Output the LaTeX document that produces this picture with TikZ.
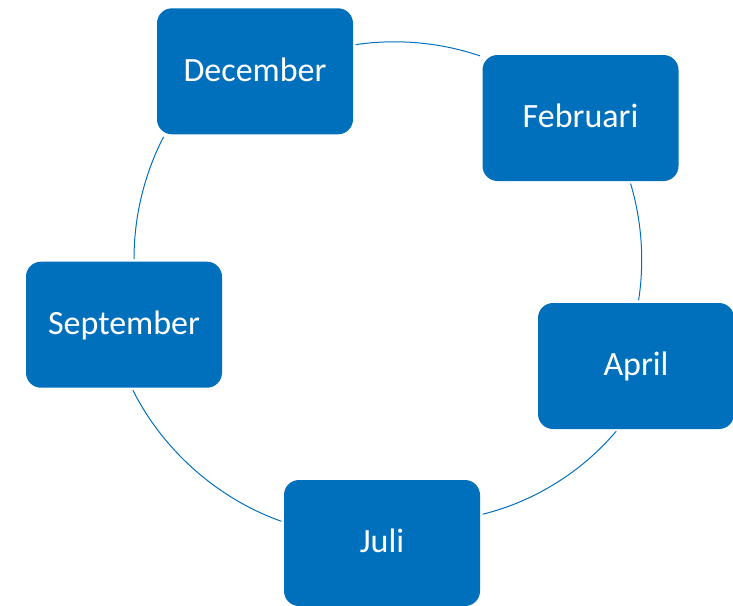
\documentclass[tikz,border=0pt]{standalone}
\usepackage{fontspec}
\setmainfont{Carlito}
\definecolor{boxblue}{RGB}{0,112,188}
\begin{document}
\begin{tikzpicture}[x=1pt,y=-1pt,
  month/.style={fill=boxblue, rounded corners=15pt, minimum width=196pt,
    minimum height=126pt, inner sep=0pt, text=white,
    font=\fontsize{34}{40}\selectfont, text height=19.5pt, text depth=0pt},
  cyclearc/.style={draw=boxblue, line width=1pt, looseness=0.88,
    shorten <=2.5pt, shorten >=2.5pt}]
\clip (0,0) rectangle (733,605);
\node[month] (dec) at (255,71.3) {December};
\node[month] (feb) at (580.5,118) {Februari};
\node[month] (apr) at (636,366) {April};
\node[month] (jul) at (382,543) {Juli};
\node[month] (sep) at (124,324.7) {September};
\draw[cyclearc] (dec.15) to[bend left=13.5] (feb.148);
\draw[cyclearc] (feb.-52) to[bend left=12.7] (apr.88);
\draw[cyclearc] (apr.-106) to[bend left=18] (jul.16);
\draw[cyclearc] (jul.168) to[bend left=22] (sep.-83);
\draw[cyclearc] (sep.81) to[bend left=13.6] (dec.215);
\end{tikzpicture}
\end{document}
